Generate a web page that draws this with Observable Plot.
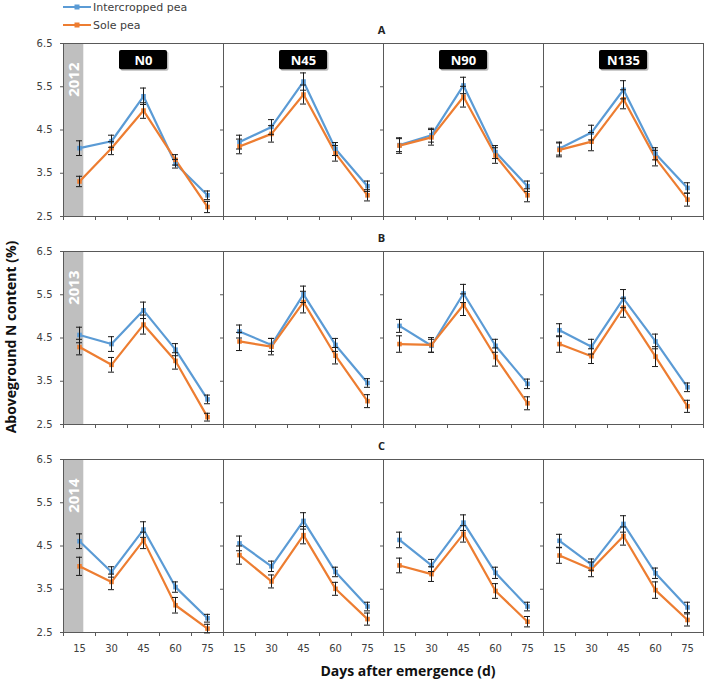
<!DOCTYPE html>
<html>
<head>
<meta charset="utf-8">
<script src="https://cdn.jsdelivr.net/npm/d3@7"></script>
<script src="https://cdn.jsdelivr.net/npm/@observablehq/plot@0.6"></script>
<style>
  body { margin: 0; background: #fff; }
  #wrap { position: relative; width: 708px; height: 688px; background: #fff; }
  #wrap svg.chart { position: absolute; left: 0; top: 0; }
  .legend { position: absolute; left: 63px; top: -2px; font: 11px "DejaVu Sans", sans-serif; color: #404040; }
  .legend .item { display: flex; align-items: center; height: 18px; }
  .legend svg { margin-right: 2px; }
  .ytitle { position: absolute; left: 10px; top: 337px; transform: translate(-50%, -50%) rotate(-90deg); white-space: nowrap; font: bold 14px "Open Sans", sans-serif; color: #111; }
  .xtitle { position: absolute; left: 408px; top: 670px; transform: translate(-50%, -50%); white-space: nowrap; font: bold 14px "Open Sans", sans-serif; color: #111; }
</style>
</head>
<body>
<div id="wrap"></div>
<script>
// ---- data ----
const days = [15, 30, 45, 60, 75];
const treatments = ["N0", "N45", "N90", "N135"];
const years = [2012, 2013, 2014];
const panelLetters = ["A", "B", "C"];
const yTicks = [2.5, 3.5, 4.5, 5.5, 6.5];
const seriesNames = ["Intercropped pea", "Sole pea"];
const seriesColors = ["#5B9BD5", "#ED7D31"];

// one row per treatment (N0, N45, N90, N135), one value per day (15..75)
const intercropped2012 = [[4.08, 4.24, 5.28, 3.72, 2.99], [4.22, 4.57, 5.62, 4.06, 3.20], [4.15, 4.38, 5.53, 3.99, 3.20], [4.07, 4.44, 5.43, 3.95, 3.16]];
const sole2012         = [[3.31, 4.08, 4.95, 3.81, 2.72], [4.12, 4.41, 5.32, 3.96, 2.99], [4.14, 4.33, 5.27, 3.91, 2.99], [4.04, 4.23, 5.21, 3.85, 2.89]];
const intercropped2013 = [[4.57, 4.36, 5.14, 4.23, 3.08], [4.65, 4.34, 5.51, 4.34, 3.46], [4.78, 4.32, 5.53, 4.32, 3.44], [4.68, 4.30, 5.41, 4.42, 3.36]];
const sole2013         = [[4.29, 3.88, 4.81, 3.97, 2.67], [4.42, 4.30, 5.33, 4.09, 3.04], [4.36, 4.34, 5.27, 4.06, 2.99], [4.36, 4.08, 5.20, 4.07, 2.92]];
const intercropped2014 = [[4.61, 3.90, 4.88, 3.55, 2.83], [4.56, 4.03, 5.08, 3.90, 3.10], [4.64, 4.05, 5.04, 3.88, 3.10], [4.62, 4.07, 5.01, 3.87, 3.08]];
const sole2014         = [[4.03, 3.67, 4.63, 3.13, 2.59], [4.29, 3.68, 4.75, 3.51, 2.81], [4.05, 3.85, 4.78, 3.46, 2.75], [4.28, 3.96, 4.73, 3.48, 2.79]];

// error bars (±)
const intercroppedErr2012 = [[0.17, 0.14, 0.19, 0.10, 0.10], [0.16, 0.17, 0.20, 0.15, 0.12], [0.15, 0.16, 0.19, 0.15, 0.12], [0.15, 0.17, 0.21, 0.14, 0.12]];
const soleErr2012         = [[0.12, 0.15, 0.18, 0.12, 0.13], [0.17, 0.19, 0.22, 0.18, 0.13], [0.18, 0.18, 0.24, 0.18, 0.15], [0.16, 0.21, 0.22, 0.18, 0.15]];
const intercroppedErr2013 = [[0.18, 0.17, 0.19, 0.14, 0.10], [0.15, 0.15, 0.19, 0.15, 0.10], [0.15, 0.15, 0.21, 0.15, 0.11], [0.15, 0.17, 0.21, 0.17, 0.10]];
const soleErr2013         = [[0.18, 0.17, 0.22, 0.19, 0.09], [0.21, 0.19, 0.25, 0.19, 0.15], [0.19, 0.17, 0.25, 0.21, 0.15], [0.19, 0.17, 0.22, 0.23, 0.14]];
const intercroppedErr2014 = [[0.17, 0.12, 0.18, 0.12, 0.09], [0.17, 0.12, 0.19, 0.11, 0.10], [0.18, 0.14, 0.18, 0.13, 0.10], [0.15, 0.13, 0.19, 0.12, 0.12]];
const soleErr2014         = [[0.21, 0.18, 0.19, 0.18, 0.10], [0.21, 0.15, 0.20, 0.15, 0.14], [0.17, 0.17, 0.19, 0.17, 0.12], [0.18, 0.17, 0.21, 0.19, 0.14]];

// ---- table built from the arrays ----
const valuesByYear = {
  2012: [[intercropped2012, intercroppedErr2012], [sole2012, soleErr2012]],
  2013: [[intercropped2013, intercroppedErr2013], [sole2013, soleErr2013]],
  2014: [[intercropped2014, intercroppedErr2014], [sole2014, soleErr2014]]
};
const rows = [];
years.forEach(year => {
  seriesNames.forEach((series, si) => {
    const [vals, errs] = valuesByYear[year][si];
    treatments.forEach((treatment, ti) => {
      days.forEach((day, di) => {
        rows.push({year, treatment, series, day, value: vals[ti][di], err: errs[ti][di]});
      });
    });
  });
});

const halfStep = (days[1] - days[0]) / 2;
const xDomain = [days[0] - halfStep, days[days.length - 1] + halfStep];
const xBounds = [...days.map(d => d - halfStep), days[days.length - 1] + halfStep];
const yDomain = [yTicks[0], yTicks[yTicks.length - 1]];
const capHalf = 1.4;
const axisColor = "#595959";
const letterRows = years.map((year, i) => ({year, letter: panelLetters[i]}));

const chart = Plot.plot({
  width: 708,
  height: 688,
  marginLeft: 61,
  marginRight: 4,
  marginTop: 43,
  marginBottom: 55,
  className: "chart",
  style: {fontFamily: "DejaVu Sans, sans-serif", fontSize: "10px", color: "#404040", background: "white"},
  x: {domain: xDomain},
  y: {domain: yDomain},
  fx: {domain: treatments, padding: 0, axis: null},
  fy: {domain: years, paddingInner: 0.166, paddingOuter: 0, axis: null},
  color: {domain: seriesNames, range: seriesColors},
  marks: [
    // grey year band in the N0 panel
    Plot.rect(years, {fx: () => treatments[0], fy: d => d, x1: xDomain[0], x2: xDomain[1], y1: yDomain[0], y2: yDomain[1], insetRight: 139.7, fill: "#bfbfbf"}),
    Plot.text(years, {fx: () => treatments[0], fy: d => d, x: xDomain[0], frameAnchor: "top", text: d => String(d), rotate: -90, textAnchor: "end", lineAnchor: "middle", dx: 10.5, dy: 19, fill: "white", fontWeight: "bold", fontSize: 15, fontFamily: "Open Sans, sans-serif"}),
    // treatment label boxes (top row)
    Plot.rect(treatments, {fx: d => d, fy: () => years[0], x1: xDomain[0], x2: xDomain[1], y1: yDomain[0], y2: yDomain[1], insetLeft: 56, insetRight: 56, insetTop: 7, insetBottom: 146.7, fill: "#777", opacity: 0.5, dx: 1.5, dy: 1.5, rx: 2}),
    Plot.rect(treatments, {fx: d => d, fy: () => years[0], x1: xDomain[0], x2: xDomain[1], y1: yDomain[0], y2: yDomain[1], insetLeft: 56, insetRight: 56, insetTop: 7, insetBottom: 146.7, fill: "black", rx: 2}),
    Plot.text(treatments, {fx: d => d, fy: () => years[0], frameAnchor: "top", dy: 17, text: d => d, lineAnchor: "middle", fill: "white", fontWeight: "bold", fontSize: 13, fontFamily: "Open Sans, sans-serif"}),
    // panel letters
    Plot.text(letterRows, {fx: () => treatments[2], fy: "year", frameAnchor: "top-left", text: "letter", textAnchor: "middle", lineAnchor: "middle", dx: -2, dy: -13, fontWeight: "bold", fontSize: 11, fill: "#222", fontFamily: "Open Sans, sans-serif"}),
    Plot.frame({stroke: axisColor}),
    // axes
    Plot.axisY({ticks: yTicks, tickSize: 0, tickPadding: 11, tickFormat: ".1f", label: null}),
    Plot.axisY({ticks: yTicks, tickSize: 3, tickFormat: () => "", label: null, facetAnchor: null, stroke: axisColor}),
    Plot.axisX({ticks: xBounds, tickSize: 4, tickFormat: () => "", label: null, facetAnchor: null, stroke: axisColor}),
    Plot.axisX({ticks: days, tickSize: 0, tickPadding: 12, label: null}),
    // data
    Plot.line(rows, {fx: "treatment", fy: "year", x: "day", y: "value", z: "series", stroke: "series", strokeWidth: 2.2}),
    Plot.dot(rows, {fx: "treatment", fy: "year", x: "day", y: "value", symbol: "square", fill: "series", r: 2.6}),
    Plot.ruleX(rows, {fx: "treatment", fy: "year", x: "day", y1: d => d.value - d.err, y2: d => d.value + d.err, stroke: "#1a1a1a", strokeWidth: 1}),
    Plot.ruleY(rows, {fx: "treatment", fy: "year", y: d => d.value + d.err, x1: d => d.day - capHalf, x2: d => d.day + capHalf, stroke: "#1a1a1a", strokeWidth: 1}),
    Plot.ruleY(rows, {fx: "treatment", fy: "year", y: d => d.value - d.err, x1: d => d.day - capHalf, x2: d => d.day + capHalf, stroke: "#1a1a1a", strokeWidth: 1})
  ]
});

const wrap = document.getElementById("wrap");
wrap.appendChild(chart);

// legend
const legend = document.createElement("div");
legend.className = "legend";
seriesNames.forEach((name, i) => {
  const item = document.createElement("div");
  item.className = "item";
  item.innerHTML = `<svg width="28" height="10"><line x1="0" x2="28" y1="5" y2="5" stroke="${seriesColors[i]}" stroke-width="2"></line><rect x="11.5" y="2.5" width="5" height="5" fill="${seriesColors[i]}"></rect></svg><span>${name}</span>`;
  legend.appendChild(item);
});
wrap.appendChild(legend);

const yTitle = document.createElement("div");
yTitle.className = "ytitle";
yTitle.textContent = "Aboveground N content (%)";
wrap.appendChild(yTitle);

const xTitle = document.createElement("div");
xTitle.className = "xtitle";
xTitle.textContent = "Days after emergence (d)";
wrap.appendChild(xTitle);
</script>
</body>
</html>
